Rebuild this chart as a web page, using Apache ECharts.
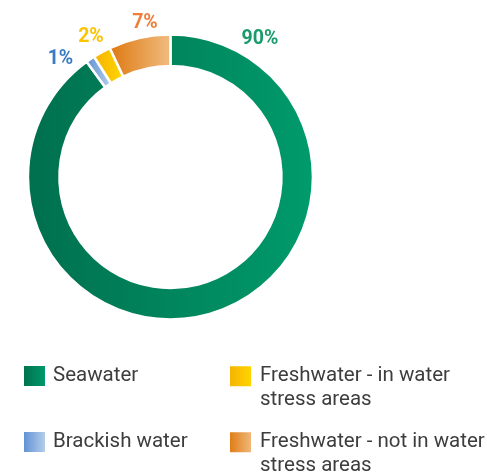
<!DOCTYPE html>
<html>
<head>
<meta charset="utf-8">
<script src="https://cdn.jsdelivr.net/npm/echarts@6/dist/echarts.min.js"></script>
<style>html,body{margin:0;padding:0;background:#fff;}#c{width:487px;height:475px;}</style>
</head>
<body>
<div id="c"></div>
<script>
// ---- data ----
var categories = ['Seawater', 'Brackish water', 'Freshwater - in water stress areas', 'Freshwater - not in water stress areas'];
var values = [90, 1, 2, 7];
var legendLabels = ['Seawater', 'Brackish water', 'Freshwater - in water\nstress areas', 'Freshwater - not in water\nstress areas'];

// ---- styles ----
var gradStops = [
  ['#006f4d', '#009b6c'],
  ['#5a8dd2', '#bcd3ec'],
  ['#f6b000', '#ffd800'],
  ['#de780e', '#f1bd82']
];
var labelColors = ['#1a9b6b', '#3a7cc4', '#fcc400', '#f07d3a'];
// label centre offsets from pie centre (px)
var labelOffsets = [[89.5, -138.3], [-110, -118.3], [-79.5, -140], [-25.5, -154]];

function grad(i) {
  return new echarts.graphic.LinearGradient(0, 0, 1, 0, [
    { offset: 0, color: gradStops[i][0] },
    { offset: 1, color: gradStops[i][1] }
  ]);
}

var chart = echarts.init(document.getElementById('c'), null, { renderer: 'canvas' });
var W = chart.getWidth(), H = chart.getHeight();
var cxP = 0.35, cyP = 0.3726;

var data = categories.map(function (n, i) {
  return {
    name: n,
    value: values[i],
    itemStyle: { color: grad(i) },
    label: { color: labelColors[i] }
  };
});

var LH = 23.5;
var legendPos = [[22, 365], [22, 431], [228, 365], [228, 431]];
var legends = categories.map(function (n, i) {
  var two = legendLabels[i].indexOf('\n') >= 0;
  return {
    data: [n],
    left: legendPos[i][0],
    top: legendPos[i][1] - (two ? 24 : 1),
    padding: 0,
    itemWidth: 23,
    itemHeight: 22,
    icon: 'rect',
    selectedMode: false,
    formatter: function () { return two ? ' \n' + legendLabels[i] : legendLabels[i]; },
    textStyle: {
      fontFamily: 'Roboto',
      fontSize: 20.5,
      color: '#3d3d3d',
      lineHeight: LH,
      padding: two ? [0, 0, 0, 3] : [0, 0, 0, 2]
    }
  };
});

chart.setOption({
  animation: false,
  legend: legends,
  series: [{
    type: 'pie',
    center: [(cxP * 100) + '%', (cyP * 100) + '%'],
    radius: [111, 142.5],
    startAngle: 90,
    clockwise: true,
    avoidLabelOverlap: false,
    itemStyle: { borderColor: '#fff', borderWidth: 2.5 },
    label: {
      show: true,
      position: 'outside',
      formatter: '{c}%',
      fontFamily: 'Roboto',
      fontWeight: 'bold',
      fontSize: 19.5
    },
    labelLine: { show: false },
    labelLayout: function (p) {
      var o = labelOffsets[p.dataIndex];
      return { x: W * cxP + o[0], y: H * cyP + o[1], align: 'center', verticalAlign: 'middle' };
    },
    data: data
  }]
});
</script>
</body>
</html>
